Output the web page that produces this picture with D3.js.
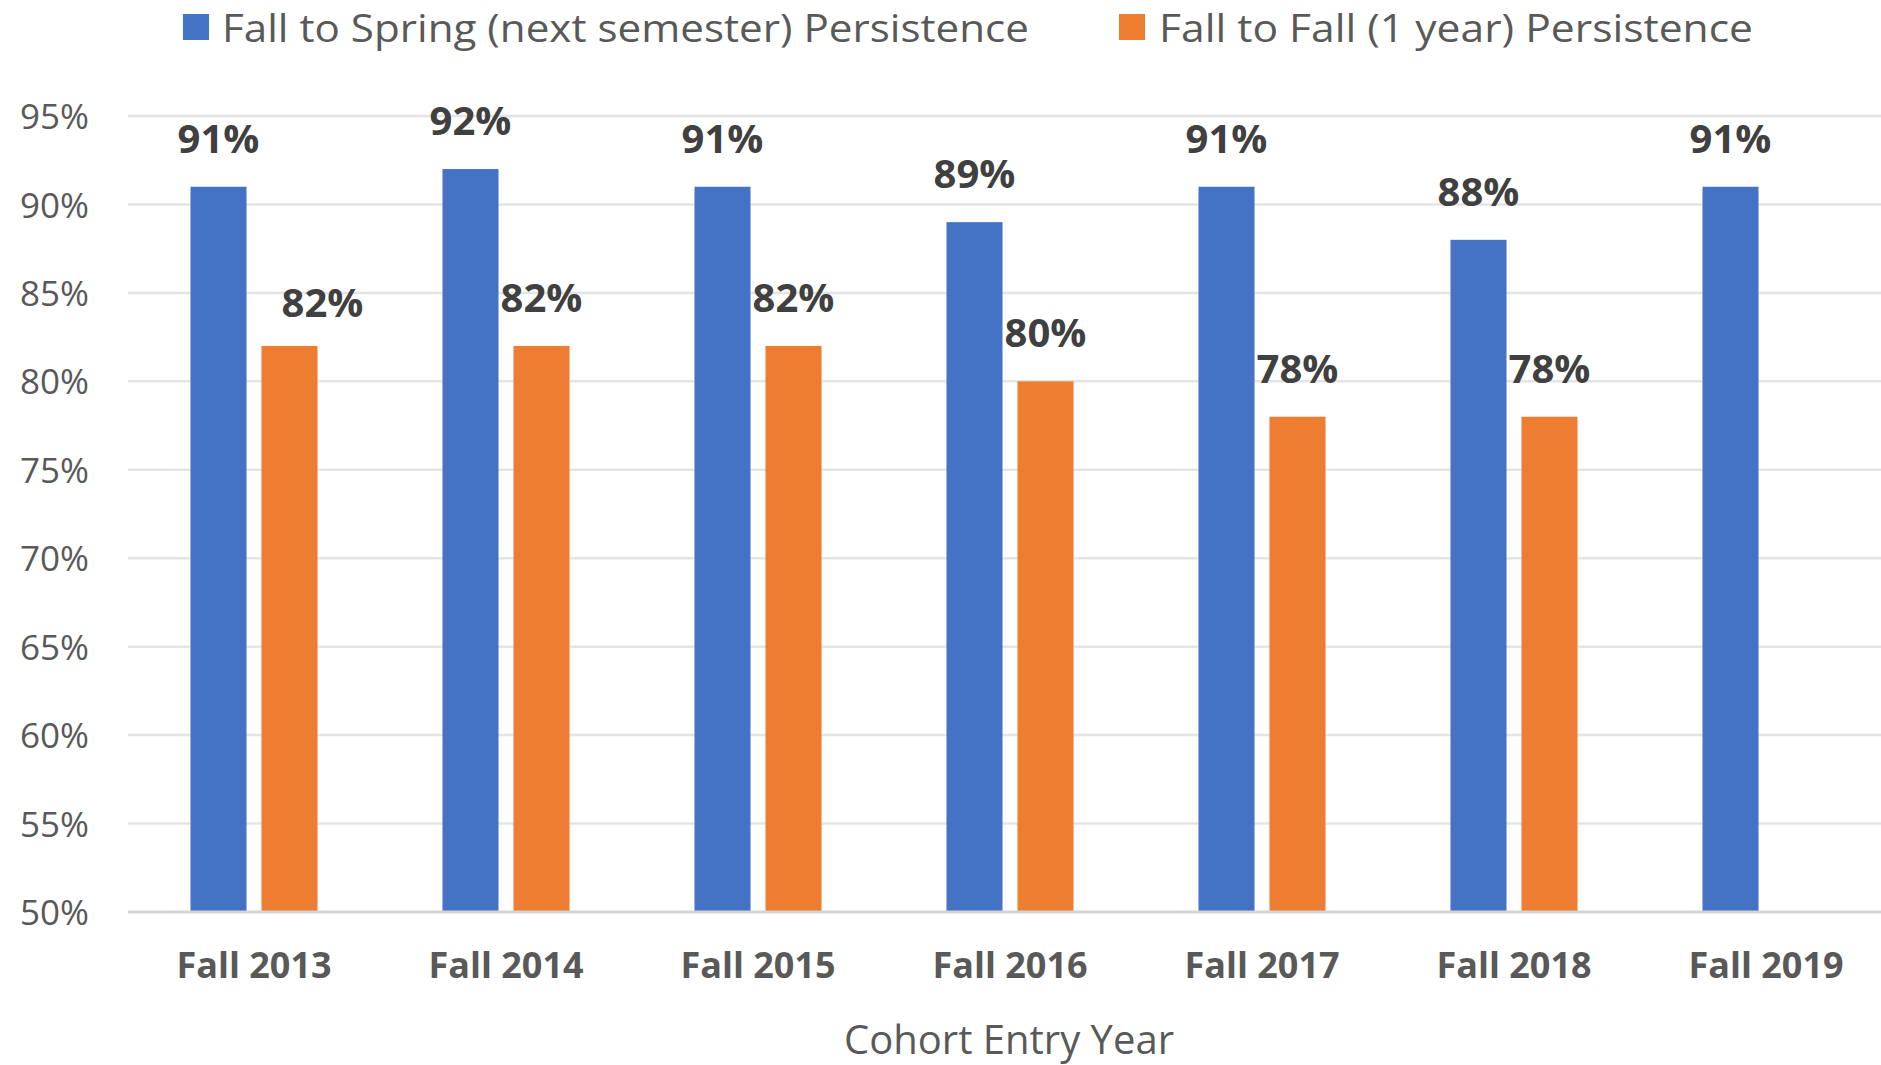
<!DOCTYPE html>
<html>
<head>
<meta charset="utf-8">
<script src="https://cdn.jsdelivr.net/npm/d3@7"></script>
<style>
  html, body { margin: 0; padding: 0; background: #ffffff; }
  svg { display: block; }
  text { font-family: "Open Sans", "Noto Sans", sans-serif; }
</style>
</head>
<body>
<svg id="chart" width="1881" height="1065"></svg>
<script>
// ---- data ----
const categories = ["Fall 2013", "Fall 2014", "Fall 2015", "Fall 2016", "Fall 2017", "Fall 2018", "Fall 2019"];
const seriesNames = ["Fall to Spring (next semester) Persistence", "Fall to Fall (1 year) Persistence"];
const springValues = [91, 92, 91, 89, 91, 88, 91];
const fallValues = [82, 82, 82, 80, 78, 78, null];
const yTicks = [50, 55, 60, 65, 70, 75, 80, 85, 90, 95];
const xTitle = "Cohort Entry Year";
const colors = ["#4472C4", "#ED7D31"];

// ---- layout ----
const svg = d3.select("#chart");
const plot = { left: 128, right: 1892, top: 116, bottom: 912 };

const x = d3.scaleBand().domain(categories).range([plot.left, plot.right]).padding(0);
const xInner = d3.scaleBand().domain([0, 1]).range([0, x.bandwidth()])
  .paddingInner(0.211).paddingOuter(0.88);
const y = d3.scaleLinear().domain([50, 95]).range([plot.bottom, plot.top]);

// gridlines
svg.append("g").selectAll("line").data(yTicks.filter(t => t !== 50)).join("line")
  .attr("x1", plot.left).attr("x2", plot.right)
  .attr("y1", d => y(d)).attr("y2", d => y(d))
  .attr("stroke", "#e4e4e4").attr("stroke-width", 2.5);

// y-axis labels
const yAxis = d3.axisLeft(y).tickValues(yTicks).tickFormat(d => d + "%").tickSize(0).tickPadding(0);
const yg = svg.append("g").attr("transform", `translate(89,0)`).call(yAxis);
yg.select(".domain").remove();
yg.selectAll("text").attr("font-size", 35).attr("fill", "#595959")
  .attr("font-family", '"Open Sans", sans-serif').attr("dy", "0.36em");

// bars
const seriesData = [springValues, fallValues];
seriesData.forEach((vals, si) => {
  svg.append("g").selectAll("rect")
    .data(vals.map((v, i) => ({ v, c: categories[i] })).filter(d => d.v != null))
    .join("rect")
    .attr("x", d => x(d.c) + xInner(si))
    .attr("width", xInner.bandwidth())
    .attr("y", d => y(d.v))
    .attr("height", d => y(50) - y(d.v) - 1)
    .attr("fill", colors[si]);
});

// baseline
svg.append("line").attr("x1", plot.left).attr("x2", plot.right)
  .attr("y1", plot.bottom).attr("y2", plot.bottom)
  .attr("stroke", "#d4d4d4").attr("stroke-width", 3);

// data labels
seriesData.forEach((vals, si) => {
  svg.append("g").selectAll("text")
    .data(vals.map((v, i) => ({ v, c: categories[i], i })).filter(d => d.v != null))
    .join("text")
    .attr("x", d => x(d.c) + xInner(si) + xInner.bandwidth() / 2 + (si === 1 && d.i === 0 ? 33 : 0))
    .attr("y", d => y(d.v) - (si === 1 && d.i === 0 ? 29 : 34))
    .attr("text-anchor", "middle")
    .attr("font-size", 40).attr("font-weight", 700).attr("fill", "#404040")
    .text(d => d.v + "%");
});

// x-axis labels
const xAxis = d3.axisBottom(x).tickSize(0).tickPadding(0);
const xg = svg.append("g").attr("transform", `translate(0,978)`).call(xAxis);
xg.select(".domain").remove();
xg.selectAll("text").attr("font-size", 36).attr("font-weight", 700).attr("fill", "#595959")
  .attr("font-family", '"Open Sans", sans-serif').attr("dy", 0);

// x-axis title
svg.append("text").attr("x", 1009).attr("y", 1054).attr("text-anchor", "middle")
  .attr("font-size", 40).attr("fill", "#595959").text(xTitle);

// legend
const legendItems = [
  { name: seriesNames[0], color: colors[0], sx: 183, tx: 222, w: 807 },
  { name: seriesNames[1], color: colors[1], sx: 1119, tx: 1159, w: 594 }
];
const lg = svg.append("g");
legendItems.forEach(it => {
  lg.append("rect").attr("x", it.sx).attr("y", 14).attr("width", 26).attr("height", 26).attr("fill", it.color);
  lg.append("text").attr("x", it.tx).attr("y", 42).attr("font-size", 39).attr("fill", "#595959")
    .attr("textLength", it.w).attr("lengthAdjust", "spacingAndGlyphs").text(it.name);
});
</script>
</body>
</html>
